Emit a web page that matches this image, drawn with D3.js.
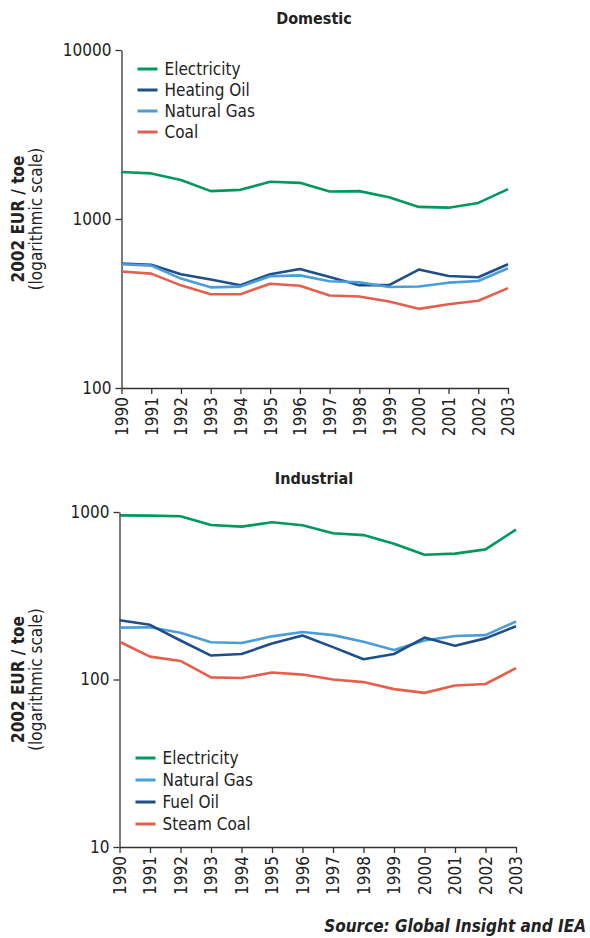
<!DOCTYPE html>
<html lang="en">
<head>
<meta charset="utf-8">
<title>Domestic and industrial energy prices</title>
<script src="https://cdn.jsdelivr.net/npm/d3@7"></script>
<style>
  body { margin: 0; background: #fff; }
  svg text { font-family: "DejaVu Sans Condensed", "DejaVu Sans", sans-serif; fill: #222; }
  .axis path, .axis line { stroke: #333; stroke-width: 1.3; }
</style>
</head>
<body>
<script>
// Years on the x axis
var years = [1990, 1991, 1992, 1993, 1994, 1995, 1996, 1997, 1998, 1999, 2000, 2001, 2002, 2003];

// Domestic prices, 2002 EUR / toe
var domElectricity = [1897, 1861, 1700, 1462, 1488, 1660, 1637, 1454, 1462, 1346, 1179, 1167, 1245, 1502];
var domHeatingOil  = [545, 536, 471, 438, 406, 471, 506, 454, 406, 406, 502, 460, 452, 540];
var domNaturalGas  = [540, 530, 444, 394, 398, 458, 464, 428, 422, 396, 399, 420, 430, 511];
var domCoal        = [489, 475, 405, 359, 359, 414, 403, 353, 348, 325, 294, 313, 328, 390];

// Industrial prices, 2002 EUR / toe
var indElectricity = [955, 952, 943, 836, 818, 868, 833, 746, 728, 647, 556, 564, 598, 785];
var indNaturalGas  = [204, 205, 190, 167, 165, 181, 192, 184, 168, 150, 171, 182, 184, 222];
var indFuelOil     = [226, 212, 171, 139, 142, 164, 183, 156, 132, 142, 178, 159, 176, 208];
var indSteamCoal   = [168, 137, 129, 103, 102, 110, 107, 100, 96.5, 87.6, 83.2, 92, 94, 117];

var domTicks = [100, 1000, 10000];
var indTicks = [10, 100, 1000];

var green = "#00985f", darkBlue = "#1f4f8a", lightBlue = "#4b9dd8", red = "#e4604d";

var w = 590, h = 938;

var svg = d3.select("body")
            .append("svg")
            .attr("width", w)
            .attr("height", h);

function drawPanel(opt) {
  var x = d3.scaleLinear()
            .domain([years[0], years[years.length - 1]])
            .range([opt.left, opt.right]);
  var y = d3.scaleLog()
            .domain(opt.domain)
            .range([opt.bottom, opt.top]);

  var g = svg.append("g");

  // title
  g.append("text")
   .attr("x", 314)
   .attr("y", opt.titleY)
   .attr("text-anchor", "middle")
   .attr("font-size", 16)
   .attr("font-weight", "bold")
   .text(opt.title);

  // y axis label
  var midY = (opt.top + opt.bottom) / 2;
  g.append("text")
   .attr("transform", "translate(24," + midY + ") rotate(-90)")
   .attr("text-anchor", "middle")
   .attr("font-size", 17)
   .attr("font-weight", "bold")
   .text("2002 EUR / toe");
  g.append("text")
   .attr("transform", "translate(42," + midY + ") rotate(-90)")
   .attr("text-anchor", "middle")
   .attr("font-size", 17)
   .text("(logarithmic scale)");

  // axes
  var yAxis = d3.axisLeft(y)
                .tickValues(opt.ticks)
                .tickFormat(d3.format("d"))
                .tickSize(6)
                .tickSizeOuter(0);
  g.append("g")
   .attr("class", "axis")
   .attr("transform", "translate(" + opt.left + ",0)")
   .call(yAxis)
   .call(function(a) {
     a.selectAll("text").attr("font-size", 17).attr("x", -10).attr("fill", "#222");
   });

  var xAxis = d3.axisBottom(x)
                .tickValues(years)
                .tickFormat(d3.format("d"))
                .tickSize(6)
                .tickSizeOuter(0);
  g.append("g")
   .attr("class", "axis")
   .attr("transform", "translate(0," + opt.bottom + ")")
   .call(xAxis)
   .call(function(a) {
     a.selectAll("text")
      .attr("font-size", 17)
      .attr("fill", "#222")
      .attr("transform", "rotate(-90)")
      .attr("text-anchor", "end")
      .attr("x", -9)
      .attr("y", 0)
      .attr("dy", "0.35em");
   });

  // lines
  var line = d3.line()
               .x(function(d, i) { return x(years[i]); })
               .y(function(d) { return y(d); });

  opt.series.forEach(function(s) {
    g.append("path")
     .datum(s.values)
     .attr("fill", "none")
     .attr("stroke", s.color)
     .attr("stroke-width", 2.6)
     .attr("stroke-linejoin", "round")
     .attr("d", line);
  });

  // legend
  var leg = g.append("g");
  opt.legend.forEach(function(s, i) {
    var ly = opt.legendY + i * opt.legendStep;
    leg.append("line")
       .attr("x1", opt.left + 16).attr("x2", opt.left + 36)
       .attr("y1", ly).attr("y2", ly)
       .attr("stroke", s.color)
       .attr("stroke-width", 3);
    leg.append("text")
       .attr("x", opt.left + 43)
       .attr("y", ly)
       .attr("dy", "0.35em")
       .attr("font-size", 17)
       .text(s.name);
  });
}

var domSeries = [
  { name: "Electricity", values: domElectricity, color: green },
  { name: "Heating Oil", values: domHeatingOil, color: darkBlue },
  { name: "Natural Gas", values: domNaturalGas, color: lightBlue },
  { name: "Coal", values: domCoal, color: red }
];

drawPanel({
  title: "Domestic", titleY: 24,
  left: 121.5, right: 508, top: 50, bottom: 388,
  domain: [100, 10000], ticks: domTicks,
  series: domSeries, legend: domSeries,
  legendY: 69, legendStep: 21
});

var indSeries = [
  { name: "Electricity", values: indElectricity, color: green },
  { name: "Natural Gas", values: indNaturalGas, color: lightBlue },
  { name: "Fuel Oil", values: indFuelOil, color: darkBlue },
  { name: "Steam Coal", values: indSteamCoal, color: red }
];

drawPanel({
  title: "Industrial", titleY: 484,
  left: 119.5, right: 516, top: 512, bottom: 847,
  domain: [10, 1000], ticks: indTicks,
  series: indSeries, legend: indSeries,
  legendY: 758, legendStep: 22
});

// source note
svg.append("text")
   .attr("x", 586)
   .attr("y", 932)
   .attr("text-anchor", "end")
   .attr("font-size", 17)
   .attr("font-weight", "bold")
   .attr("font-style", "italic")
   .text("Source: Global Insight and IEA");
</script>
</body>
</html>
